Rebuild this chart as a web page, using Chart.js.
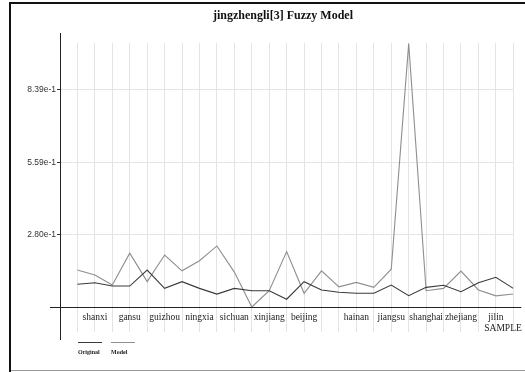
<!DOCTYPE html>
<html>
<head>
<meta charset="utf-8">
<script src="https://cdn.jsdelivr.net/npm/chart.js@4/dist/chart.umd.min.js"></script>
<style>
  html, body { margin: 0; padding: 0; background: #fff; }
  canvas { display: block; }
</style>
</head>
<body>
<canvas id="c" width="525" height="372"></canvas>
<script>
// Sample names shown under the axis (blank where the label is skipped)
const sampleLabels = ['', 'shanxi', '', 'gansu', '', 'guizhou', '', 'ningxia', '', 'sichuan',
  '', 'xinjiang', '', 'beijing', '', '', 'hainan', '', 'jiangsu', '', 'shanghai', '',
  'zhejiang', '', 'jilin', ''];

// Series values per sample
const original = [0.088, 0.094, 0.081, 0.081, 0.143, 0.072, 0.098, 0.072, 0.050, 0.072,
  0.063, 0.063, 0.030, 0.098, 0.066, 0.057, 0.053, 0.053, 0.085, 0.044,
  0.076, 0.084, 0.059, 0.094, 0.115, 0.072];
const model = [0.143, 0.124, 0.085, 0.208, 0.098, 0.201, 0.140, 0.179, 0.236, 0.135,
  0.000, 0.063, 0.214, 0.053, 0.140, 0.078, 0.095, 0.076, 0.146, 1.018,
  0.063, 0.072, 0.139, 0.066, 0.043, 0.050];

// Value axis ticks
const yTickValues = [0.2797, 0.5594, 0.8391];
const yTickLabels = ['2.80e-1', '5.59e-1', '8.39e-1'];

const titleText = 'jingzhengli[3] Fuzzy Model';
const axisTitle = 'SAMPLE';
const seriesNames = ['Original', 'Model'];
const seriesColors = ['#3a3a3a', '#8e8e8e'];

const toPoints = arr => arr.map((v, i) => ({ x: i + 1, y: v }));

// Frame, axis lines, title and legend
const decor = {
  id: 'decor',
  beforeDraw(chart) {
    const ctx = chart.ctx;
    ctx.save();
    ctx.fillStyle = '#fff';
    ctx.fillRect(0, 0, chart.width, chart.height);
    ctx.strokeStyle = '#111';
    ctx.lineWidth = 2;
    ctx.beginPath();
    ctx.moveTo(10, 372);
    ctx.lineTo(10, 3);
    ctx.lineTo(525, 3);
    ctx.stroke();
    ctx.strokeStyle = '#9a9a9a';
    ctx.lineWidth = 1;
    ctx.beginPath();
    ctx.moveTo(11, 370.5);
    ctx.lineTo(525, 370.5);
    ctx.stroke();
    ctx.restore();
  },
  afterDraw(chart) {
    const ctx = chart.ctx;
    const a = chart.chartArea;
    const xs = chart.scales.x, ys = chart.scales.y;
    const x0 = Math.round(xs.getPixelForValue(0)) + 0.5;
    const y0 = Math.round(ys.getPixelForValue(0)) + 0.5;
    ctx.save();
    ctx.strokeStyle = '#222';
    ctx.lineWidth = 1;
    ctx.beginPath();
    ctx.moveTo(x0, a.top - 10);
    ctx.lineTo(x0, a.bottom + 8);
    ctx.moveTo(a.left - 10, y0);
    ctx.lineTo(a.right + 8, y0);
    ctx.stroke();

    ctx.fillStyle = '#111';
    ctx.font = 'bold 12px "Liberation Serif"';
    ctx.textAlign = 'center';
    ctx.textBaseline = 'middle';
    ctx.fillText(titleText, 283, 16);

    ctx.font = '9.5px "Liberation Serif"';
    ctx.fillStyle = '#222';
    ctx.fillText(axisTitle, 503, 328);

    // legend
    const lx = [78, 111];
    ctx.lineWidth = 1;
    ctx.font = 'bold 6px "Liberation Serif"';
    ctx.textAlign = 'left';
    seriesNames.forEach((name, i) => {
      ctx.strokeStyle = seriesColors[i];
      ctx.beginPath();
      ctx.moveTo(lx[i], 342.5);
      ctx.lineTo(lx[i] + 24, 342.5);
      ctx.stroke();
      ctx.fillStyle = '#222';
      ctx.fillText(name, lx[i], 352);
    });
    ctx.restore();
  }
};

new Chart(document.getElementById('c'), {
  type: 'line',
  data: {
    datasets: [
      { label: seriesNames[0], data: toPoints(original), borderColor: seriesColors[0],
        borderWidth: 1.1, pointRadius: 0, tension: 0, fill: false },
      { label: seriesNames[1], data: toPoints(model), borderColor: seriesColors[1],
        borderWidth: 1.1, pointRadius: 0, tension: 0, fill: false }
    ]
  },
  options: {
    responsive: false,
    animation: false,
    events: [],
    layout: { padding: { left: 10, top: 43, right: 11.7, bottom: 40 } },
    plugins: { legend: { display: false }, title: { display: false }, tooltip: { enabled: false } },
    scales: {
      x: {
        type: 'linear',
        position: { y: 0 },
        min: 0, max: 26,
        border: { display: false },
        grid: { color: ctx => ctx.tick && ctx.tick.value === 0 ? 'rgba(0,0,0,0)' : '#e4e4e4',
                drawTicks: false, lineWidth: 1 },
        ticks: {
          stepSize: 1, autoSkip: false, maxRotation: 0, padding: 5,
          color: '#222',
          font: { family: '"Liberation Serif"', size: 9.5 },
          callback: v => sampleLabels[v - 1] || ''
        }
      },
      y: {
        min: -0.0966, max: 1.0205,
        afterFit: s => { s.width = 50; },
        afterBuildTicks: s => { s.ticks = yTickValues.map(v => ({ value: v })); },
        border: { display: false },
        grid: { color: '#e4e4e4', tickColor: '#333', tickLength: 3, lineWidth: 1 },
        ticks: {
          padding: 1, color: '#333',
          font: { family: '"Liberation Sans"', size: 8.5 },
          callback: (v, i) => yTickLabels[i]
        }
      }
    }
  },
  plugins: [decor]
});
</script>
</body>
</html>
